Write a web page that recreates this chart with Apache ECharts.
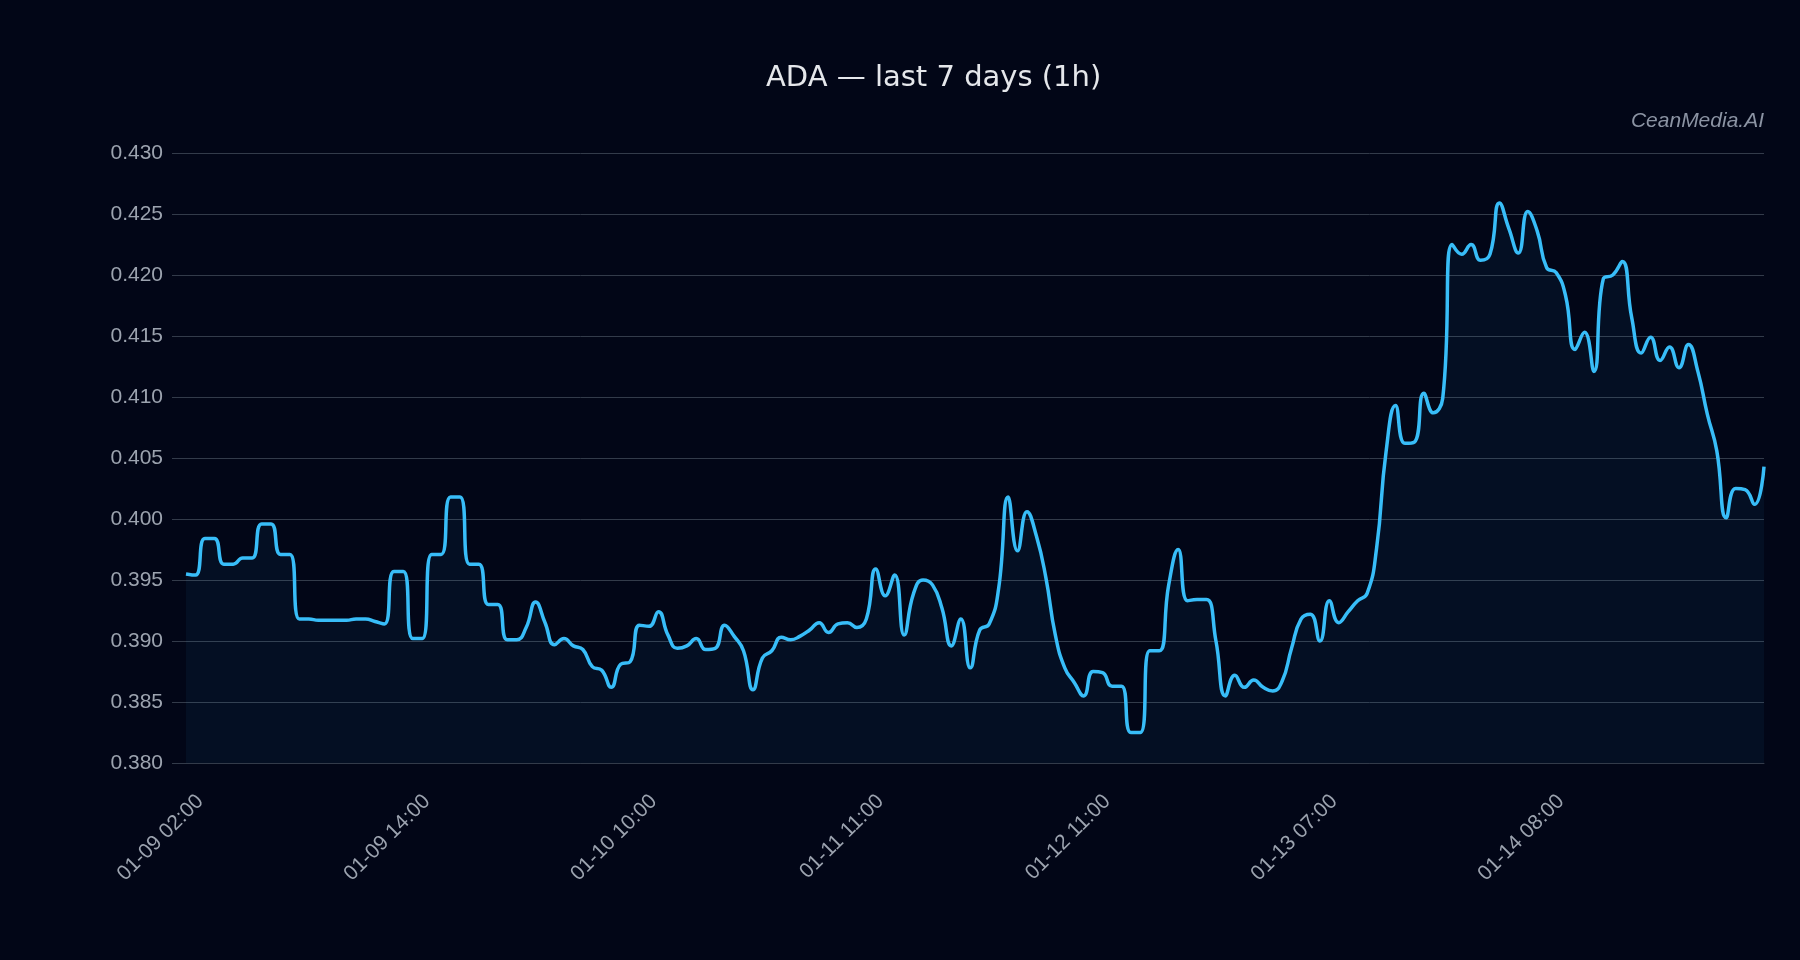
<!DOCTYPE html>
<html>
<head>
<meta charset="utf-8">
<title>ADA — last 7 days (1h)</title>
<script src="https://cdn.jsdelivr.net/npm/echarts@6/dist/echarts.min.js"></script>
<style>
html,body{margin:0;padding:0;background:#020617;}
#chart{width:1800px;height:960px;}
</style>
</head>
<body>
<div id="chart"></div>
<script>
const titleText = 'ADA — last 7 days (1h)';
const watermarkText = 'CeanMedia.AI';

// tick labels shown every 24 points on the category axis
const tickLabels = ['01-09 02:00', '01-09 14:00', '01-10 10:00', '01-11 11:00', '01-12 11:00', '01-13 07:00', '01-14 08:00'];
const tickEvery = 24;

// ADA close price, one value per candle
const prices = [
  0.3955, 0.3954, 0.3984, 0.3984, 0.3963, 0.3963, 0.3968, 0.3968, 0.3996, 0.3996,
  0.3971, 0.3971, 0.3918, 0.3918, 0.3917, 0.3917, 0.3917, 0.3917, 0.3918, 0.3918,
  0.3916, 0.3914, 0.3957, 0.3957, 0.3902, 0.3902, 0.3971, 0.3971, 0.4018, 0.4018,
  0.3963, 0.3963, 0.3930, 0.3930, 0.3901, 0.3901, 0.3911, 0.3932, 0.3915, 0.3897,
  0.3902, 0.3896, 0.3893, 0.3879, 0.3876, 0.3862, 0.3881, 0.3883, 0.3913, 0.3912,
  0.3924, 0.3905, 0.3894, 0.3896, 0.3902, 0.3893, 0.3894, 0.3913, 0.3904, 0.3892,
  0.3860, 0.3886, 0.3892, 0.3903, 0.3901, 0.3904, 0.3909, 0.3915, 0.3907, 0.3914,
  0.3915, 0.3911, 0.3918, 0.3959, 0.3937, 0.3954, 0.3905, 0.3939, 0.3950, 0.3946,
  0.3927, 0.3896, 0.3918, 0.3878, 0.3909, 0.3914, 0.3943, 0.4018, 0.3974, 0.4006,
  0.3986, 0.3952, 0.3905, 0.3878, 0.3866, 0.3855, 0.3875, 0.3874, 0.3863, 0.3863,
  0.3825, 0.3825, 0.3892, 0.3892, 0.3946, 0.3975, 0.3933, 0.3934, 0.3934, 0.3900,
  0.3855, 0.3872, 0.3862, 0.3868, 0.3862, 0.3859, 0.3867, 0.3894, 0.3918, 0.3922,
  0.3900, 0.3933, 0.3915, 0.3924, 0.3933, 0.3939, 0.3976, 0.4055, 0.4093, 0.4062,
  0.4063, 0.4103, 0.4087, 0.4099, 0.4225, 0.4217, 0.4225, 0.4212, 0.4217, 0.4259,
  0.4238, 0.4218, 0.4252, 0.4236, 0.4206, 0.4202, 0.4183, 0.4139, 0.4153, 0.4121,
  0.4197, 0.4200, 0.4211, 0.4165, 0.4136, 0.4149, 0.4130, 0.4141, 0.4124, 0.4143,
  0.4121, 0.4086, 0.4056, 0.4001, 0.4025, 0.4024, 0.4012, 0.4043
];

// y axis range
const yMin = 0.380;
const yMax = 0.430;
const yStep = 0.005;

// full category list: named ticks every 24 candles, other candles get an index name
const categories = prices.map((_, i) =>
  (i % tickEvery === 0 && tickLabels[i / tickEvery] !== undefined) ? tickLabels[i / tickEvery] : ('#' + i)
);

const chart = echarts.init(document.getElementById('chart'), null, {renderer: 'canvas'});

const gridColor = '#333b4a';
const textGray = '#9ca3af';

chart.setOption({
  backgroundColor: '#020617',
  animation: false,
  title: {
    text: titleText,
    left: 766,
    top: 64,
    padding: 0,
    textStyle: {
      color: '#e5e7eb',
      fontSize: 29,
      fontWeight: 'normal',
      fontFamily: 'DejaVu Sans'
    }
  },
  graphic: [{
    type: 'text',
    right: 36,
    top: 111,
    style: {
      text: watermarkText,
      fill: '#8b93a3',
      font: 'italic 21px "Liberation Sans"',
      textAlign: 'right'
    }
  }],
  grid: {
    left: 186,
    right: 36,
    top: 153,
    bottom: 197,
    containLabel: false
  },
  xAxis: {
    type: 'category',
    boundaryGap: false,
    data: categories,
    axisLine: {show: true, lineStyle: {color: gridColor, width: 1}},
    axisTick: {show: false},
    splitLine: {show: false},
    axisLabel: {
      interval: tickEvery - 1,
      rotate: 45,
      margin: 21,
      verticalAlign: 'top',
      lineHeight: 40,
      color: textGray,
      fontSize: 21,
      fontFamily: 'Liberation Sans'
    }
  },
  yAxis: {
    type: 'value',
    min: yMin,
    max: yMax,
    interval: yStep,
    axisLine: {show: false},
    axisTick: {show: true, length: 14, lineStyle: {color: gridColor, width: 1}},
    splitLine: {show: true, lineStyle: {color: gridColor, width: 1}},
    axisLabel: {
      margin: 23,
      color: textGray,
      fontSize: 21,
      fontFamily: 'Liberation Sans',
      formatter: v => v.toFixed(3)
    }
  },
  series: [{
    type: 'line',
    data: prices,
    smooth: true,
    showSymbol: false,
    lineStyle: {color: '#38bdf8', width: 3.5},
    areaStyle: {color: 'rgba(56,189,248,0.08)'},
    z: 3
  }]
});
</script>
</body>
</html>
